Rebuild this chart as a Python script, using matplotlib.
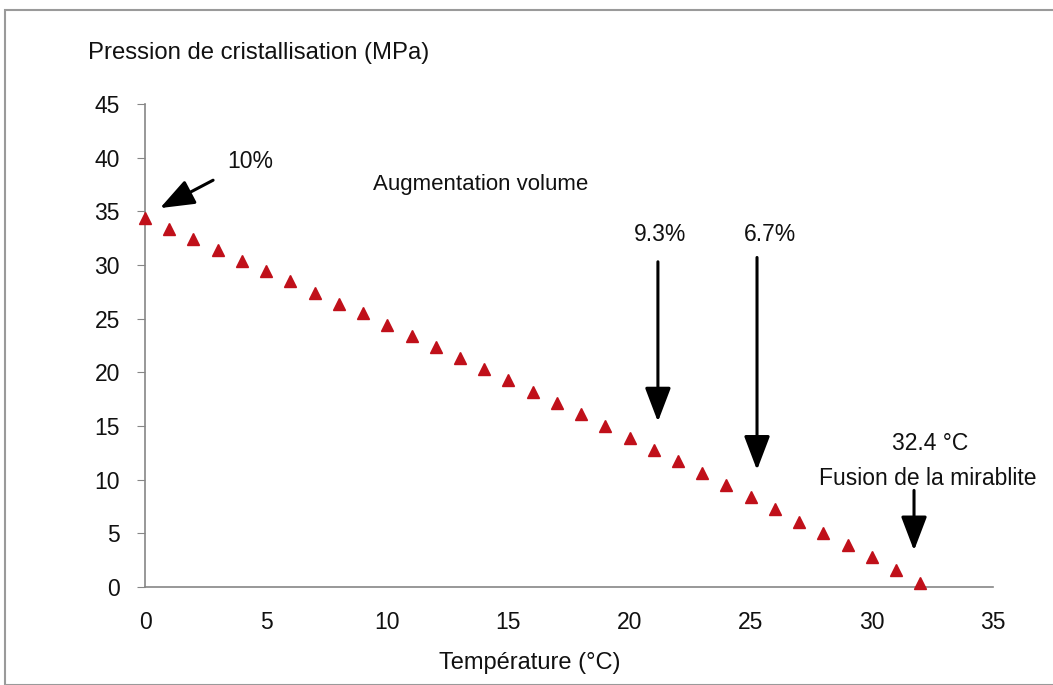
import matplotlib
matplotlib.use("Agg")
import matplotlib.pyplot as plt
from matplotlib.patches import Rectangle, FancyArrowPatch

temperature = list(range(0, 33))
pression = [34.4, 33.4, 32.4, 31.4, 30.4, 29.4, 28.5, 27.4, 26.4, 25.5,
            24.4, 23.4, 22.4, 21.3, 20.3, 19.3, 18.2, 17.1, 16.1, 15.0,
            13.9, 12.8, 11.7, 10.6, 9.5, 8.4, 7.3, 6.1, 5.0, 3.9,
            2.8, 1.6, 0.4]
x_ticks = [0, 5, 10, 15, 20, 25, 30, 35]
y_ticks = [0, 5, 10, 15, 20, 25, 30, 35, 40, 45]

plt.rcParams['font.family'] = ['Liberation Sans', 'DejaVu Sans']

fig = plt.figure(figsize=(10.53, 6.85), dpi=100)
fig.patches.append(Rectangle((5/1053, 0), 1.1, 1 - 10/685, transform=fig.transFigure,
                             fill=False, edgecolor='#9a9a9a', linewidth=1.5, zorder=0))
ax = fig.add_axes([145/1053, 1 - 587/685, 848/1053, 483/685])

ax.plot(temperature, pression, linestyle='none', marker='^', markersize=8,
        color='#C0101A', clip_on=False, zorder=3)

ax.set_xlim(0, 35)
ax.set_ylim(0, 45)
ax.set_xticks(x_ticks)
ax.set_yticks(y_ticks)
ax.tick_params(axis='x', length=0, pad=17, labelsize=16.5, colors='#111111')
ax.tick_params(axis='y', length=6, direction='out', pad=12, labelsize=16.5,
               color='#868686', labelcolor='#111111')
for s in ['top', 'right']:
    ax.spines[s].set_visible(False)
for s in ['left', 'bottom']:
    ax.spines[s].set_color('#868686')
    ax.spines[s].set_linewidth(1.2)

fig.text(88/1053, 1 - 53/685, 'Pression de cristallisation (MPa)', fontsize=17.2,
         ha='left', va='center', color='#111111')
fig.text(530/1053, 1 - 663/685, 'Température (°C)', fontsize=17,
         ha='center', va='center', color='#111111')

def arrow(x0, y0, x1, y1):
    a = FancyArrowPatch((x0, y0), (x1, y1), arrowstyle='-|>,head_width=8,head_length=21',
                        mutation_scale=1, linewidth=2.2, color='black',
                        transform=ax.transData, clip_on=False, shrinkA=0, shrinkB=0)
    ax.add_patch(a)

tc = '#111111'
ax.text(4.35, 39.6, '10%', fontsize=16.5, ha='center', va='center', color=tc)
arrow(2.81, 37.9, 0.62, 35.3)
ax.text(13.85, 37.5, 'Augmentation volume', fontsize=16, ha='center', va='center', color=tc)
ax.text(21.25, 32.8, '9.3%', fontsize=16.5, ha='center', va='center', color=tc)
arrow(21.17, 30.3, 21.17, 15.4)
ax.text(25.8, 32.8, '6.7%', fontsize=16.5, ha='center', va='center', color=tc)
arrow(25.26, 30.7, 25.26, 10.9)
ax.text(32.4, 13.4, '32.4 °C', fontsize=16.5, ha='center', va='center', color=tc)
ax.text(32.3, 10.1, 'Fusion de la mirablite', fontsize=16.5, ha='center', va='center', color=tc)
arrow(31.74, 9.0, 31.74, 3.4)

fig.savefig('out.png', dpi=100)
